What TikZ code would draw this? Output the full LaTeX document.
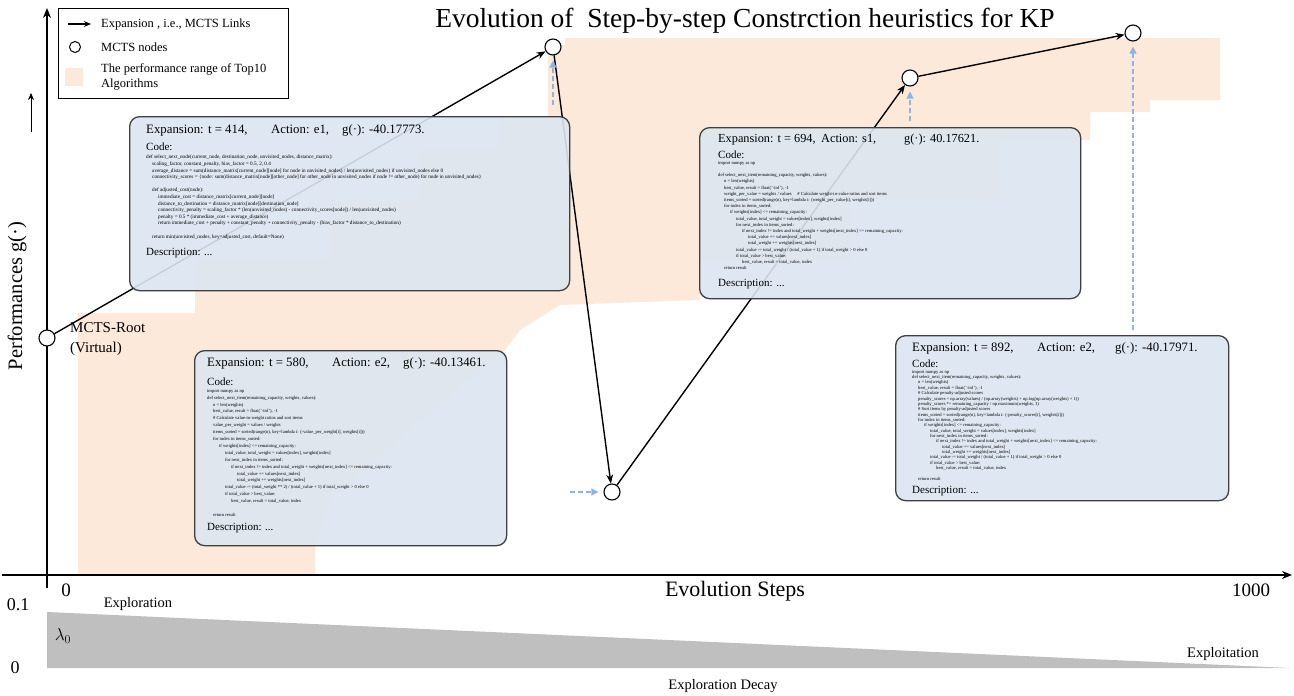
\documentclass[tikz,border=0pt]{standalone}
\usepackage{fontspec}
\setmainfont{Liberation Serif}
\usetikzlibrary{arrows.meta}
\definecolor{peach}{HTML}{FDE9D9}
\definecolor{boxblue}{HTML}{DCE6F1}
\definecolor{boxline}{HTML}{3F3F3F}
\definecolor{dashblue}{HTML}{8EB4E3}
\definecolor{decay}{HTML}{BFBFBF}
\newcommand{\ci}[1]{\hspace*{#1pt}}
\pgfdeclarelayer{bg}
\pgfdeclarelayer{mid}
\pgfsetlayers{bg,mid,main}
\begin{document}
\begin{tikzpicture}[x=1pt,y=-1pt,
  mnode/.style={circle, draw, line width=1.1pt, fill=white, minimum size=16pt, inner sep=0pt},
  link/.style={-{Stealth[length=9pt,width=7pt]}, line width=1.4pt},
  axisarrow/.style={-{Stealth[length=10pt,width=8pt]}, line width=1.5pt},
  dasharrow/.style={dashblue, dash pattern=on 5pt off 3pt, line width=1.4pt, -{Triangle[length=7pt,width=7pt]}},
  codebox/.style={draw=boxline, line width=1.3pt, rounded corners=10pt, fill=boxblue, fill opacity=0.9, inner sep=0pt, anchor=north west},
  header/.style={anchor=west, inner sep=0pt},
  label/.style={anchor=west, inner sep=0pt, font=\fontsize{11}{13}\selectfont},
  codetext/.style={anchor=north west, align=left, inner sep=0pt},
  plain/.style={inner sep=0pt}
]
\useasboundingbox (0,0) rectangle (1294,696);

% performance range of top10
\begin{pgfonlayer}{bg}
\fill[peach] (78,575) -- (78,313) -- (195,313) -- (195,260) -- (330,260) -- (330,200) -- (420,200) -- (420,150)
  -- (500,150) -- (500,116) -- (548,116) -- (548,45) -- (565,45) -- (565,38) -- (1220,38)
  -- (1220,100) -- (1150,100) -- (1150,112) -- (1090,112) -- (1090,140) -- (1000,140) -- (1000,200)
  -- (850,200) -- (850,260) -- (700,260) -- (700,300) -- (560,305) -- (520,330) -- (505,350)
  -- (420,420) -- (330,500) -- (315,545) -- (315,575) -- cycle;
\fill[decay] (47,612) -- (47,668) -- (1290,668) -- cycle;
\end{pgfonlayer}

% axes
\coordinate (yb) at (47,588);
\coordinate (yt) at (47,8);
\coordinate (xl) at (2,575);
\coordinate (xr) at (1292,575);
\coordinate (sa) at (31,132);
\coordinate (sb) at (31,93);
\draw[axisarrow] (yb) -- (yt);
\draw[axisarrow] (xl) -- (xr);
\draw[-{Stealth[length=7pt,width=6pt]}, line width=1pt] (sa) -- (sb);
\node[plain, rotate=90, font=\fontsize{20.5}{24}\selectfont] (ylab) at (17,296) {Performances g(·)};

% legend
\node[draw, line width=0.8pt, minimum width=230pt, minimum height=90pt, anchor=north west, inner sep=0pt] (legend) at (58,8) {};
\coordinate (la1) at (68,24);
\coordinate (la2) at (91,24);
\draw[-{Stealth[length=7pt,width=6pt]}, line width=1.2pt] (la1) -- (la2);
\node[plain, anchor=west, font=\fontsize{12.5}{14}\selectfont] (lt1) at (101,24) {Expansion , i.e., MCTS Links};
\node[circle, draw, line width=1pt, minimum size=11pt, inner sep=0pt] (lc) at (75,47) {};
\node[plain, anchor=west, font=\fontsize{12.5}{14}\selectfont] (lt2) at (101,47) {MCTS nodes};
\node[fill=peach, minimum size=18pt, inner sep=0pt] (lp) at (74,77) {};
\node[plain, anchor=west, align=left, font=\fontsize{12.5}{14.5}\selectfont] (lt3) at (101,77) {The performance range of Top10\\Algorithms};

% title
\node[plain, font=\fontsize{27.5}{31}\selectfont] (title) at (745,21) {Evolution of\ \ Step-by-step Constrction heuristics for KP};

% MCTS nodes
\node[mnode] (root) at (47,338) {};
\node[mnode] (n1) at (553,47) {};
\node[mnode] (n2) at (612,492) {};
\node[mnode] (n3) at (910,78) {};
\node[mnode] (n4) at (1133,33) {};
\node[plain, anchor=west, align=left, font=\fontsize{15}{20}\selectfont] (rootlab) at (70,339) {MCTS-Root\\(Virtual)};

\begin{pgfonlayer}{mid}
\draw[link] (root) -- (n1);
\draw[link] (n1) -- (n2);
\draw[link] (n2) -- (n3);
\draw[link] (n3) -- (n4);
\end{pgfonlayer}

% ---------- box 1
\node[codebox, minimum width=440pt, minimum height=174pt] (b1) at (129,116) {};
\node[header, font=\fontsize{12.8}{14}\selectfont] (h1) at (146,130) {\makebox[125pt][l]{Expansion: t = 414,}\makebox[71pt][l]{Action: e1,}g(·): -40.17773.};
\node[label] (c1) at (146,147) {Code:};
\node[codetext, font=\fontsize{5.2}{6.6}\selectfont] (k1) at (146,155) {%
def select\_next\_node(current\_node, destination\_node, unvisited\_nodes, distance\_matrix):\\
\ci{6}scaling\_factor, constant\_penalty, bias\_factor = 0.5, 2, 0.4\\
\ci{6}average\_distance = sum(distance\_matrix[current\_node][node] for node in unvisited\_nodes) / len(unvisited\_nodes) if unvisited\_nodes else 0\\
\ci{6}connectivity\_scores = \{node: sum(distance\_matrix[node][other\_node] for other\_node in unvisited\_nodes if node != other\_node) for node in unvisited\_nodes\}\\
\mbox{}\\
\ci{6}def adjusted\_cost(node):\\
\ci{12}immediate\_cost = distance\_matrix[current\_node][node]\\
\ci{12}distance\_to\_destination = distance\_matrix[node][destination\_node]\\
\ci{12}connectivity\_penalty = scaling\_factor * (len(unvisited\_nodes) - connectivity\_scores[node]) / len(unvisited\_nodes)\\
\ci{12}penalty = 0.5 * (immediate\_cost + average\_distance)\\
\ci{12}return immediate\_cost + penalty + constant\_penalty + connectivity\_penalty - (bias\_factor * distance\_to\_destination)\\
\mbox{}\\
\ci{6}return min(unvisited\_nodes, key=adjusted\_cost, default=None)};
\node[label] (d1) at (146,253) {Description: ...};

% ---------- box 2
\node[codebox, minimum width=312pt, minimum height=195pt] (b2) at (194,350) {};
\node[header, font=\fontsize{12.8}{14}\selectfont] (h2) at (207,363) {\makebox[125pt][l]{Expansion: t = 580,}\makebox[71pt][l]{Action: e2,}g(·): -40.13461.};
\node[label] (c2) at (207,382) {Code:};
\node[codetext, font=\fontsize{4.6}{6.9}\selectfont] (k2) at (207,389) {%
import numpy as np\\
def select\_next\_item(remaining\_capacity, weights, values):\\
\ci{6}n = len(weights)\\
\ci{6}best\_value, result = float('-inf'), -1\\
\ci{6}\# Calculate value-to-weight ratios and sort items\\
\ci{6}value\_per\_weight = values / weights\\
\ci{6}items\_sorted = sorted(range(n), key=lambda i: (-value\_per\_weight[i], weights[i]))\\
\ci{6}for index in items\_sorted:\\
\ci{12}if weights[index] <= remaining\_capacity:\\
\ci{18}total\_value, total\_weight = values[index], weights[index]\\
\ci{18}for next\_index in items\_sorted:\\
\ci{24}if next\_index != index and total\_weight + weights[next\_index] <= remaining\_capacity:\\
\ci{30}total\_value += values[next\_index]\\
\ci{30}total\_weight += weights[next\_index]\\
\ci{18}total\_value -= (total\_weight ** 2) / (total\_value + 1) if total\_weight > 0 else 0\\
\ci{18}if total\_value > best\_value:\\
\ci{24}best\_value, result = total\_value, index\\
\mbox{}\\
\ci{6}return result};
\node[label] (d2) at (207,528) {Description: ...};

% ---------- box 3
\node[codebox, minimum width=381pt, minimum height=171pt] (b3) at (699,127) {};
\node[header, font=\fontsize{12.3}{14}\selectfont] (h3) at (718,140) {\makebox[103pt][l]{Expansion: t = 694,}\makebox[83pt][l]{Action: s1,}g(·): 40.17621.};
\node[label] (c3) at (718,155) {Code:};
\node[codetext, font=\fontsize{4.6}{6.2}\selectfont] (k3) at (718,161) {%
import numpy as np\\
\mbox{}\\
def select\_next\_item(remaining\_capacity, weights, values):\\
\ci{6}n = len(weights)\\
\ci{6}best\_value, result = float('-inf'), -1\\
\ci{6}weight\_per\_value = weights / values\ \ \ \ \ \# Calculate weight-to-value ratios and sort items\\
\ci{6}items\_sorted = sorted(range(n), key=lambda i: (weight\_per\_value[i], weights[i]))\\
\ci{6}for index in items\_sorted:\\
\ci{12}if weights[index] <= remaining\_capacity:\\
\ci{18}total\_value, total\_weight = values[index], weights[index]\\
\ci{18}for next\_index in items\_sorted:\\
\ci{24}if next\_index != index and total\_weight + weights[next\_index] <= remaining\_capacity:\\
\ci{30}total\_value += values[next\_index]\\
\ci{30}total\_weight += weights[next\_index]\\
\ci{18}total\_value -= total\_weight / (total\_value + 1) if total\_weight > 0 else 0\\
\ci{18}if total\_value > best\_value:\\
\ci{24}best\_value, result = total\_value, index\\
\ci{6}return result};
\node[label] (d3) at (718,284) {Description: ...};

% ---------- box 4
\node[codebox, minimum width=333pt, minimum height=165pt] (b4) at (895,335) {};
\node[header, font=\fontsize{12.8}{14}\selectfont] (h4) at (912,348) {\makebox[125pt][l]{Expansion: t = 892,}\makebox[78pt][l]{Action: e2,}g(·): -40.17971.};
\node[label] (c4) at (912,364) {Code:};
\node[codetext, font=\fontsize{4.6}{5.35}\selectfont] (k4) at (912,370) {%
import numpy as np\\
def select\_next\_item(remaining\_capacity, weights, values):\\
\ci{6}n = len(weights)\\
\ci{6}best\_value, result = float('-inf'), -1\\
\ci{6}\# Calculate penalty-adjusted scores\\
\ci{6}penalty\_scores = np.array(values) / (np.array(weights) + np.log(np.array(weights) + 1))\\
\ci{6}penalty\_scores *= remaining\_capacity / np.maximum(weights, 1)\\
\ci{6}\# Sort items by penalty-adjusted scores\\
\ci{6}items\_sorted = sorted(range(n), key=lambda i: (-penalty\_scores[i], weights[i]))\\
\ci{6}for index in items\_sorted:\\
\ci{12}if weights[index] <= remaining\_capacity:\\
\ci{18}total\_value, total\_weight = values[index], weights[index]\\
\ci{18}for next\_index in items\_sorted:\\
\ci{24}if next\_index != index and total\_weight + weights[next\_index] <= remaining\_capacity:\\
\ci{30}total\_value += values[next\_index]\\
\ci{30}total\_weight += weights[next\_index]\\
\ci{18}total\_value -= total\_weight / (total\_value + 1) if total\_weight > 0 else 0\\
\ci{18}if total\_value > best\_value:\\
\ci{24}best\_value, result = total\_value, index\\
\mbox{}\\
\ci{6}return result};
\node[label] (d4) at (912,491) {Description: ...};

% dashed arrows
\coordinate (dn2) at (570,492);
\draw[dasharrow, shorten <=11pt, shorten >=5pt] (b1.north -| n1) -- (n1);
\draw[dasharrow, shorten >=5pt] (dn2) -- (n2);
\draw[dasharrow, shorten <=6pt, shorten >=5pt] (b3.north -| n3) -- (n3);
\draw[dasharrow, shorten <=5pt, shorten >=5pt] (b4.north -| n4) -- (n4);

% bottom axis labels
\node[plain, font=\fontsize{19}{22}\selectfont] (x0) at (66,590) {0};
\node[plain, font=\fontsize{22}{26}\selectfont] (xlab) at (735,591) {Evolution Steps};
\node[plain, font=\fontsize{19}{22}\selectfont] (x1000) at (1251,590) {1000};

% exploration decay
\node[plain, font=\fontsize{18}{22}\selectfont] (l01) at (18,605) {0.1};
\node[plain, font=\fontsize{18}{22}\selectfont] (l00) at (15,668) {0};
\node[plain, font=\fontsize{18}{22}\selectfont] (lam) at (63,636) {$\lambda_0$};
\node[plain, font=\fontsize{14.5}{17}\selectfont] (explo) at (138,604) {Exploration};
\node[plain, font=\fontsize{14.5}{17}\selectfont] (exploit) at (1223,654) {Exploitation};
\node[plain, font=\fontsize{14.5}{17}\selectfont] (decaylab) at (723,686) {Exploration Decay};
\end{tikzpicture}
\end{document}
